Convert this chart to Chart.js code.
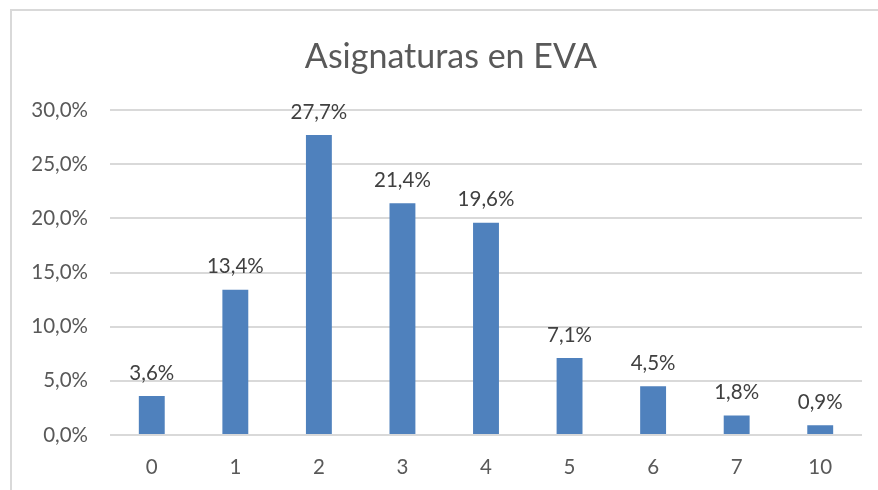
<!DOCTYPE html>
<html>
<head>
<meta charset="utf-8">
<script src="https://cdn.jsdelivr.net/npm/chart.js@4"></script>
<style>
  html, body { margin: 0; padding: 0; background: #fff; }
  #wrap { position: relative; width: 878px; height: 490px; overflow: hidden; }
  #frame { position: absolute; left: 10px; top: 9px; width: 900px; height: 520px; border: 2px solid #d9d9d9; box-sizing: border-box; }
  canvas { position: absolute; left: 0; top: 0; }
</style>
</head>
<body>
<div id="wrap">
  <div id="frame"></div>
  <canvas id="myChart" width="878" height="490"></canvas>
</div>
<script>
const categories = ["0", "1", "2", "3", "4", "5", "6", "7", "10"];
const percentages = [3.6, 13.4, 27.7, 21.4, 19.6, 7.1, 4.5, 1.8, 0.9];
const titleText = "Asignaturas en EVA";

const fmt = (v) => v.toFixed(1).replace(".", ",") + "%";

// draws the value above each bar, like the spreadsheet data labels
const barLabels = {
	id: "barLabels",
	afterDatasetsDraw(chart) {
		const ctx = chart.ctx;
		const meta = chart.getDatasetMeta(0);
		ctx.save();
		ctx.font = "20.5px Lato";
		ctx.fillStyle = "#404040";
		ctx.textAlign = "center";
		ctx.textBaseline = "middle";
		meta.data.forEach((bar, i) => {
			ctx.fillText(fmt(percentages[i]), bar.x, bar.y - 23);
		});
		ctx.restore();
	}
};

// title sits a bit right of the canvas centre in the original
const chartTitle = {
	id: "chartTitle",
	afterDraw(chart) {
		const ctx = chart.ctx;
		ctx.save();
		ctx.font = "34px Lato";
		ctx.fillStyle = "#595959";
		ctx.textAlign = "center";
		ctx.textBaseline = "middle";
		ctx.fillText(titleText, 451, 57);
		ctx.restore();
	}
};

const ctx = document.getElementById("myChart").getContext("2d");
new Chart(ctx, {
	type: "bar",
	data: {
		labels: categories,
		datasets: [{
			data: percentages,
			backgroundColor: "#4F81BD",
			barPercentage: 0.62,
			categoryPercentage: 0.5
		}]
	},
	options: {
		responsive: false,
		animation: false,
		layout: { padding: { left: 0, right: 16, top: 110, bottom: 0 } },
		plugins: {
			legend: { display: false },
			tooltip: { enabled: false },
			title: { display: false }
		},
		scales: {
			x: {
				grid: { display: false },
				border: { display: false },
				ticks: { color: "#595959", font: { family: "Lato", size: 20.5 }, padding: 12 },
				afterFit: (scale) => { scale.height = 55; }
			},
			y: {
				min: 0,
				max: 30,
				grid: { color: "#d9d9d9", lineWidth: 2, drawTicks: false },
				border: { display: false },
				ticks: {
					stepSize: 5,
					color: "#595959",
					font: { family: "Lato", size: 20.5 },
					padding: 22,
					callback: (v) => fmt(v)
				},
				afterFit: (scale) => { scale.width = 110; }
			}
		}
	},
	plugins: [barLabels, chartTitle]
});
</script>
</body>
</html>
